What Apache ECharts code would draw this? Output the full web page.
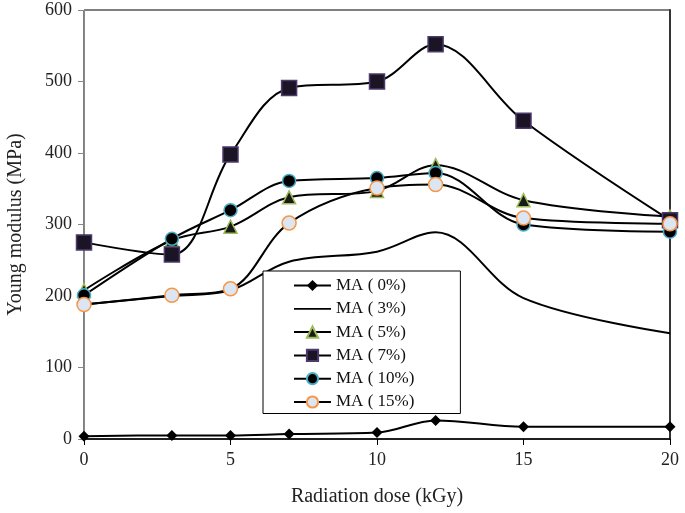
<!DOCTYPE html>
<html><head><meta charset="utf-8">
<script src="https://cdn.jsdelivr.net/npm/echarts@6/dist/echarts.min.js"></script>
<style>html,body{margin:0;padding:0;background:#fff}#c{width:685px;height:513px}</style>
</head><body><div id="c"></div>
<script>
const doses = [0, 3, 5, 7, 10, 12, 15, 20];
const ma0  = [4, 5, 5, 7, 9, 26, 17, 17];
const ma3  = [188, 200, 208, 248, 262, 289, 197, 148];
const ma5  = [208, 278, 297, 338, 347, 383, 334, 311];
const ma7  = [275, 258, 398, 491, 500, 552, 445, 306];
const ma10 = [201, 280, 320, 361, 365, 372, 300, 290];
const ma15 = [188, 201, 210, 302, 351, 356, 309, 301];
const names = ['MA ( 0%)', 'MA ( 3%)', 'MA ( 5%)', 'MA ( 7%)', 'MA ( 10%)', 'MA ( 15%)'];
const xTicks = [0, 5, 10, 15, 20];
const yTicks = [0, 100, 200, 300, 400, 500, 600];

const pair = arr => doses.map((d, i) => [d, arr[i]]);
const serif = 'Liberation Serif';
const lineStyle = { color: '#000', width: 2 };

function mk(name, arr, symbol, size, fill, border, bw) {
  return {
    name, type: 'line', smooth: 0.35, data: pair(arr),
    symbol, symbolSize: size, lineStyle,
    itemStyle: { color: fill, borderColor: border, borderWidth: bw },
    emphasis: { disabled: true }, z: 3
  };
}

const chart = echarts.init(document.getElementById('c'));
chart.setOption({
  animation: false,
  backgroundColor: '#fff',
  grid: { left: 84, right: 15, top: 10, bottom: 74, show: true, borderColor: '#000', borderWidth: 1,
    containLabel: false, outerBoundsMode: 'none' },
  xAxis: {
    type: 'value', min: 0, max: 20, interval: 5,
    name: 'Radiation dose (kGy)', nameLocation: 'middle', nameGap: 48,
    nameTextStyle: { fontFamily: serif, fontSize: 20, color: '#222' },
    axisLine: { onZero: false, lineStyle: { color: '#000', width: 1.5 } },
    axisTick: { show: true, length: 6, lineStyle: { color: '#000' } },
    axisLabel: { fontFamily: serif, fontSize: 18, color: '#222', margin: 12,
      formatter: v => xTicks.includes(v) ? String(v) : '' },
    splitLine: { show: false }
  },
  yAxis: [{
    type: 'value', min: 0, max: 600, interval: 100,
    name: 'Young modulus (MPa)', nameLocation: 'middle', nameGap: 58,
    nameTextStyle: { fontFamily: serif, fontSize: 20, color: '#222' },
    axisLine: { show: true, lineStyle: { color: '#888', width: 1 } },
    axisTick: { show: true, length: 6, lineStyle: { color: '#888' } },
    axisLabel: { fontFamily: serif, fontSize: 18, color: '#222', margin: 12,
      formatter: v => yTicks.includes(v) ? String(v) : '' },
    splitLine: { show: false }
  }, {
    type: 'value', min: 0, max: 600, position: 'right',
    axisLine: { show: true, lineStyle: { color: '#333', width: 2 } },
    axisTick: { show: false }, axisLabel: { show: false }, splitLine: { show: false }
  }],
  legend: {
    orient: 'vertical', left: 263, top: 271,
    data: [names[0], { name: names[1], icon: 'path://M0,0L40,0L40,2L0,2Z' }, names[2], names[3], names[4], names[5]],
    backgroundColor: '#fff', borderColor: '#000', borderWidth: 1,
    padding: [6, 46, 3, 30],
    itemWidth: 37, itemHeight: 14, itemGap: 6.3,
    textStyle: { fontFamily: serif, fontSize: 17, color: '#111', lineHeight: 17 }
  },
  series: [
    mk(names[0], ma0, 'diamond', 11, '#000', '#000', 0),
    { name: names[1], type: 'line', smooth: 0.35, data: pair(ma3), symbol: 'none',
      lineStyle, itemStyle: { color: '#000' }, emphasis: { disabled: true }, z: 3 },
    mk(names[2], ma5, 'triangle', 13, '#1a1a1a', '#9bbb59', 1.5),
    mk(names[3], ma7, 'rect', 15, '#1b1425', '#4b3a6b', 1.5),
    mk(names[4], ma10, 'circle', 13, '#000', '#4bacc6', 1.5),
    mk(names[5], ma15, 'circle', 14, '#dce6f2', '#f79646', 1.5)
  ]
});
</script></body></html>
